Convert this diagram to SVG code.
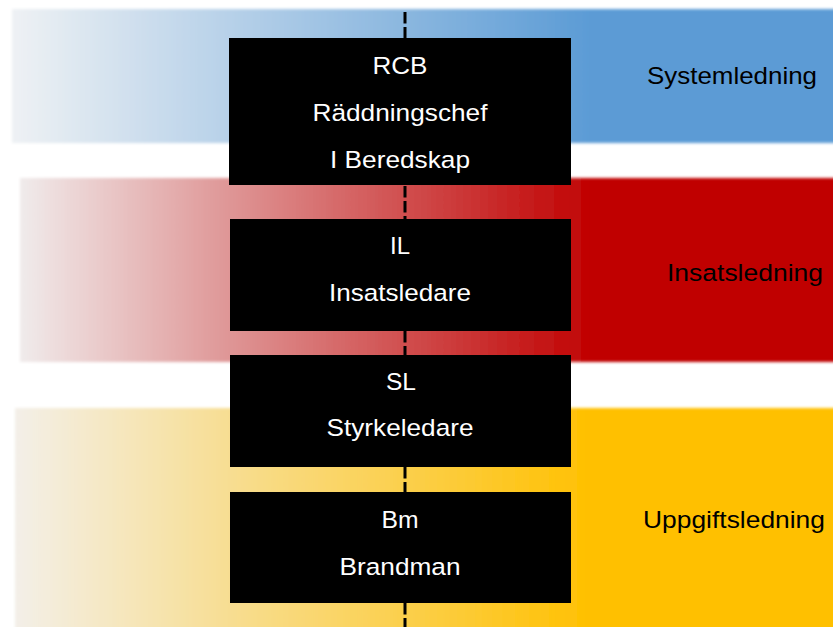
<svg xmlns="http://www.w3.org/2000/svg" width="833" height="627" viewBox="0 0 833 627">
  <defs>
    <linearGradient id="gBlue" gradientUnits="userSpaceOnUse" x1="12" y1="0" x2="592" y2="0">
      <stop offset="0" stop-color="#eef1f4"/>
      <stop offset="1" stop-color="#5b9bd5"/>
    </linearGradient>
    <linearGradient id="gRed" gradientUnits="userSpaceOnUse" x1="20" y1="0" x2="597" y2="0">
      <stop offset="0" stop-color="#f0ebeb"/>
      <stop offset="1" stop-color="#c00000"/>
    </linearGradient>
    <linearGradient id="gYellow" gradientUnits="userSpaceOnUse" x1="15" y1="0" x2="593" y2="0">
      <stop offset="0" stop-color="#f3efe8"/>
      <stop offset="1" stop-color="#ffc000"/>
    </linearGradient>
    <filter id="soft" x="-5%" y="-10%" width="110%" height="120%">
      <feGaussianBlur stdDeviation="1.6"/>
    </filter>
  </defs>
  <style>
    .box { fill: #000000; }
    .lbl { font-family: "Liberation Sans", Arial, sans-serif; font-size: 24.5px; fill: #ffffff; text-anchor: middle; }
    .band-lbl { font-family: "Liberation Sans", Arial, sans-serif; font-size: 24.5px; fill: #000000; text-anchor: middle; }
    .link { stroke: #000000; stroke-width: 3; stroke-dasharray: 11.5 3.5; fill: none; }
  </style>

  <rect width="833" height="627" fill="#ffffff"/>

  <!-- level bands -->
  <g id="bands">
    <g id="band-system">
      <rect x="12" y="9" width="840" height="134" fill="url(#gBlue)" filter="url(#soft)"/>
      <text class="band-lbl" x="732" y="84" textLength="170" lengthAdjust="spacingAndGlyphs">Systemledning</text>
    </g>
    <g id="band-insats">
      <rect x="20" y="178" width="832" height="184" fill="url(#gRed)" filter="url(#soft)"/>
      <text class="band-lbl" x="745" y="281" textLength="156" lengthAdjust="spacingAndGlyphs">Insatsledning</text>
    </g>
    <g id="band-uppgift">
      <rect x="15" y="408" width="837" height="230" fill="url(#gYellow)" filter="url(#soft)"/>
      <text class="band-lbl" x="734" y="528" textLength="182" lengthAdjust="spacingAndGlyphs">Uppgiftsledning</text>
    </g>
  </g>

  <!-- dashed chain of command -->
  <g id="connectors">
    <line class="link" x1="405" y1="12" x2="405" y2="38"/>
    <line class="link" x1="405" y1="186" x2="405" y2="219"/>
    <line class="link" x1="405" y1="331" x2="405" y2="355"/>
    <line class="link" x1="405" y1="467" x2="405" y2="492"/>
    <line class="link" x1="405" y1="603" x2="405" y2="627"/>
  </g>

  <!-- roles -->
  <g id="node-rcb">
    <rect class="box" x="229" y="38" width="342" height="147"/>
    <text class="lbl" x="400" y="74" textLength="55" lengthAdjust="spacingAndGlyphs">RCB</text>
    <text class="lbl" x="400" y="121" textLength="175" lengthAdjust="spacingAndGlyphs">Räddningschef</text>
    <text class="lbl" x="400" y="168" textLength="140" lengthAdjust="spacingAndGlyphs">I Beredskap</text>
  </g>
  <g id="node-il">
    <rect class="box" x="230" y="219" width="341" height="112"/>
    <text class="lbl" x="400" y="254" textLength="20" lengthAdjust="spacingAndGlyphs">IL</text>
    <text class="lbl" x="400" y="301" textLength="142" lengthAdjust="spacingAndGlyphs">Insatsledare</text>
  </g>
  <g id="node-sl">
    <rect class="box" x="230" y="355" width="341" height="112"/>
    <text class="lbl" x="401" y="390" textLength="30" lengthAdjust="spacingAndGlyphs">SL</text>
    <text class="lbl" x="400" y="436" textLength="147" lengthAdjust="spacingAndGlyphs">Styrkeledare</text>
  </g>
  <g id="node-bm">
    <rect class="box" x="230" y="492" width="341" height="111"/>
    <text class="lbl" x="400" y="528" textLength="37" lengthAdjust="spacingAndGlyphs">Bm</text>
    <text class="lbl" x="400" y="575" textLength="121" lengthAdjust="spacingAndGlyphs">Brandman</text>
  </g>
</svg>
